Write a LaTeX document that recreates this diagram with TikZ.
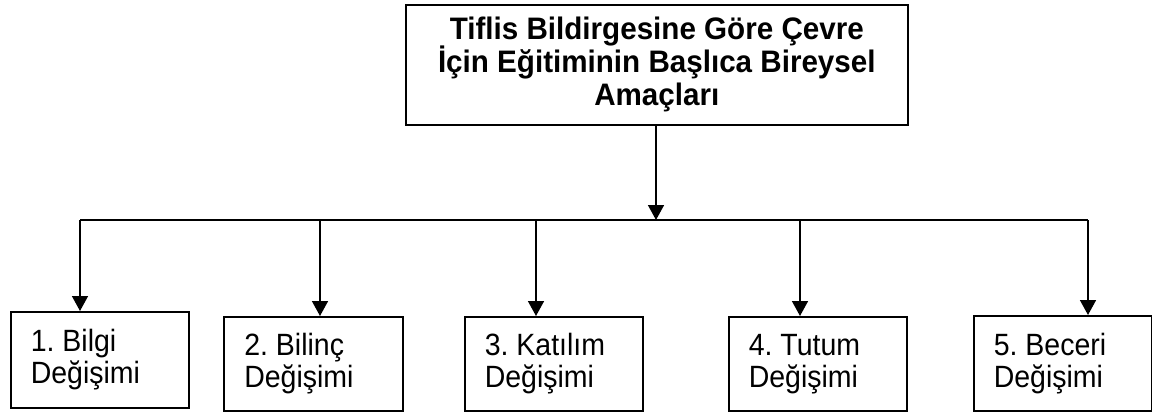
\documentclass[tikz,border=0pt]{standalone}
\usepackage{fontspec}
\setmainfont{Liberation Sans}
\usetikzlibrary{arrows.meta}
\frenchspacing
% two-line label of a goal box, slightly tall type, fixed line pitch
\newcommand{\goaltext}[2]{\scalebox{1}[1.08]{\parbox{138pt}{\fontsize{28.5}{29.6}\selectfont
  \lineskiplimit=-\maxdimen\relax\raggedright #1\\#2}}}
% centred bold heading, fixed line pitch
\newcommand{\headtext}[1]{\scalebox{1}[1.05]{\parbox{490pt}{\centering\bfseries\fontsize{29.6}{31.5}\selectfont
  \lineskiplimit=-\maxdimen\relax #1}}}
\begin{document}
\begin{tikzpicture}[x=1pt,y=-1pt,
  box/.style={draw,line width=1.6pt,anchor=north west,inner sep=0pt},
  goalbox/.style={box,minimum width=178pt,minimum height=95pt,inner xsep=20pt},
  link/.style={line width=1.6pt},
  arrow/.style={link,-{Triangle[width=16pt,length=15pt]}}]
  \useasboundingbox (0,0) rectangle (1152,412);
  % heading box
  \node[box,minimum width=502pt,minimum height=120pt] (top) at (405,4)
    {\headtext{Tiflis Bildirgesine Göre Çevre\\İçin Eğitiminin Başlıca Bireysel\\Amaçları}};
  % five goal boxes
  \node[goalbox,minimum height=96pt] (b1) at (10,311) {\goaltext{1. Bilgi}{Değişimi}};
  \node[goalbox,minimum height=94pt,minimum width=179pt] (b2) at (223,316) {\goaltext{2. Bilinç}{Değişimi}};
  \node[goalbox,minimum height=94pt] (b3) at (464,316) {\goaltext{3. Katılım}{Değişimi}};
  \node[goalbox,minimum height=94pt] (b4) at (728,316) {\goaltext{4. Tutum}{Değişimi}};
  \node[goalbox,minimum height=95pt,minimum width=177pt] (b5) at (973,315) {\goaltext{5. Beceri}{Değişimi}};
  % distribution bar
  \coordinate (j) at (656,220);
  \coordinate (t1) at (80,220);
  \coordinate (t2) at (320,220);
  \coordinate (t3) at (536,220);
  \coordinate (t4) at (800,220);
  \coordinate (t5) at (1088,220);
  \draw[link] (t1) -- (t5);
  \draw[arrow] (top.south -| j) -- (j);
  \foreach \i in {1,...,5} \draw[arrow] (t\i) -- (t\i |- b\i.north);
\end{tikzpicture}
\end{document}
